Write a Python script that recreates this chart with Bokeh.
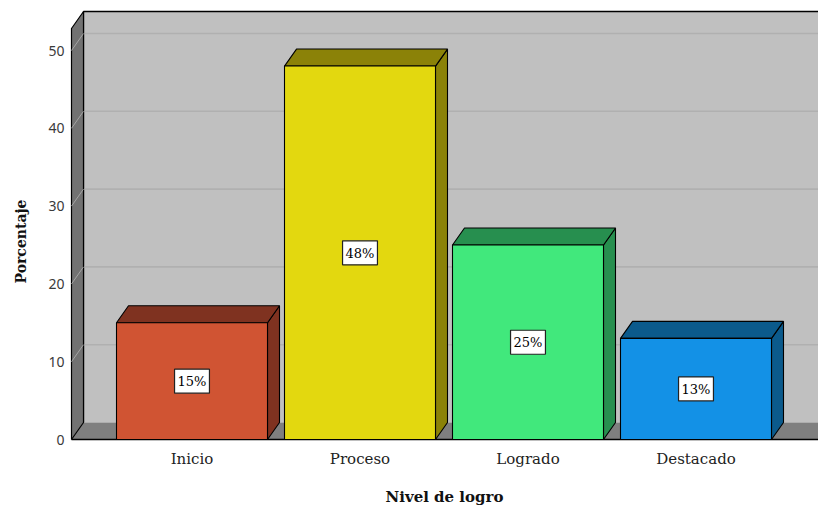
from bokeh.plotting import figure
from bokeh.models import Range1d, ColumnDataSource
from bokeh.core.properties import value
from bokeh.embed import file_html
from bokeh.resources import INLINE
import math

# Data
categories = ["Inicio", "Proceso", "Logrado", "Destacado"]
percentages = [15, 48, 25, 13]
labels = ["15%", "48%", "25%", "13%"]
front_colors = ["#d05433", "#e3d80f", "#41e87c", "#1391e6"]
shade_colors = ["#7f3220", "#8b8208", "#278f4f", "#0b5a8c"]
y_ticks = [0, 10, 20, 30, 40, 50]
x_title = "Nivel de logro"
y_title = "Porcentaje"

# Scale: one category step is 168 px, one percent is 7.78 px
PX_X = 168.0
PX_Y = 7.78
X0_PX, Y0_PX = 191.5, 439.0          # canvas position of (category 0, 0 %)
W, H = 818, 508

def sx(px):
    return (px - X0_PX) / PX_X

def sy(py):
    return (Y0_PX - py) / PX_Y

# Geometry of the pseudo-3D box
BAR_W = 151 / PX_X
DEPTH_X = 12 / PX_X
DEPTH_Y = 17 / PX_Y
WALL_TOP = sy(28)
X_START = sx(71)
X_END = sx(W + 2)

p = figure(width=W, height=H, output_backend="svg", toolbar_location=None,
           x_range=Range1d(sx(0), sx(W)), y_range=Range1d(sy(H), sy(0)),
           min_border=0, x_axis_type=None, y_axis_type=None)
p.outline_line_color = None
p.xgrid.visible = False
p.ygrid.visible = False
p.background_fill_color = "white"
p.border_fill_color = "white"

# Back wall
bx0 = X_START + DEPTH_X
p.patch([bx0, X_END, X_END, bx0], [DEPTH_Y, DEPTH_Y, WALL_TOP + DEPTH_Y, WALL_TOP + DEPTH_Y],
        fill_color="#c0c0c0", line_color=None)
p.line([bx0, bx0, X_END], [DEPTH_Y, WALL_TOP + DEPTH_Y, WALL_TOP + DEPTH_Y],
       line_color="black", line_width=1.3)

# Back wall gridlines
grid_t = [t for t in y_ticks if t > 0]
p.segment(x0=[bx0] * len(grid_t), y0=[t + DEPTH_Y for t in grid_t],
          x1=[X_END] * len(grid_t), y1=[t + DEPTH_Y for t in grid_t],
          line_color="#b0b0b0", line_width=1.6)

# Floor
p.patch([X_START, X_END, X_END, bx0], [0, 0, DEPTH_Y, DEPTH_Y],
        fill_color="#7f7f7f", line_color=None)
p.line([X_START, X_END], [0, 0], line_color="black", line_width=1.3)

# Left wall
p.patch([X_START, X_START, bx0, bx0], [0, WALL_TOP, WALL_TOP + DEPTH_Y, DEPTH_Y],
        fill_color="#727272", line_color="black", line_width=1.2)
p.segment(x0=[X_START] * len(grid_t), y0=grid_t,
          x1=[bx0] * len(grid_t), y1=[t + DEPTH_Y for t in grid_t],
          line_color="#a4a4a4", line_width=1)

# Bars: side face, top face, front face
idx = list(range(len(categories)))
side_xs, side_ys, top_xs, top_ys = [], [], [], []
for i, v in zip(idx, percentages):
    r = i + BAR_W / 2
    l = i - BAR_W / 2
    side_xs.append([r, r, r + DEPTH_X, r + DEPTH_X])
    side_ys.append([0, v, v + DEPTH_Y, DEPTH_Y])
    top_xs.append([l, r, r + DEPTH_X, l + DEPTH_X])
    top_ys.append([v, v, v + DEPTH_Y, v + DEPTH_Y])

p.patches(side_xs, side_ys, fill_color=shade_colors, line_color="black", line_width=1.1)
p.patches(top_xs, top_ys, fill_color=shade_colors, line_color="black", line_width=1.1)
p.vbar(x=idx, top=percentages, bottom=0, width=BAR_W, fill_color=front_colors,
       line_color="black", line_width=1.1)

# Value labels in boxes, at half the bar height
src = ColumnDataSource(dict(x=idx, y=[v / 2 for v in percentages], t=labels))
p.text(x="x", y="y", text="t", source=src, text_align="center",
       text_baseline="middle", text_font=value("DejaVu Serif"),
       text_font_size="13px", text_color="black",
       background_fill_color="white", border_line_color="#222222",
       border_line_width=1.2, padding=dict(left=3, right=3, top=5, bottom=4))

# Value axis tick labels
p.text(x=[sx(64)] * len(y_ticks), y=y_ticks, text=[str(t) for t in y_ticks],
       text_align="right", text_baseline="middle", text_font=value("Noto Sans"),
       text_font_size="14px", text_color="#3a3a3a")

# Category labels
p.text(x=idx, y=[sy(458)] * len(idx), text=categories, text_align="center",
       text_baseline="middle", text_font=value("DejaVu Serif"),
       text_font_size="15px", text_color="#222222")

# Axis titles
p.text(x=[sx(444)], y=[sy(496)], text=[x_title], text_align="center",
       text_baseline="middle", text_font=value("DejaVu Serif"),
       text_font_style="bold", text_font_size="15px", text_color="#111111")
p.text(x=[sx(20)], y=[sy(241)], text=[y_title], angle=math.pi / 2, text_align="center",
       text_baseline="middle", text_font=value("DejaVu Serif"),
       text_font_style="bold", text_font_size="14px", text_color="#111111")

open("out.html", "w").write(file_html(p, INLINE))
